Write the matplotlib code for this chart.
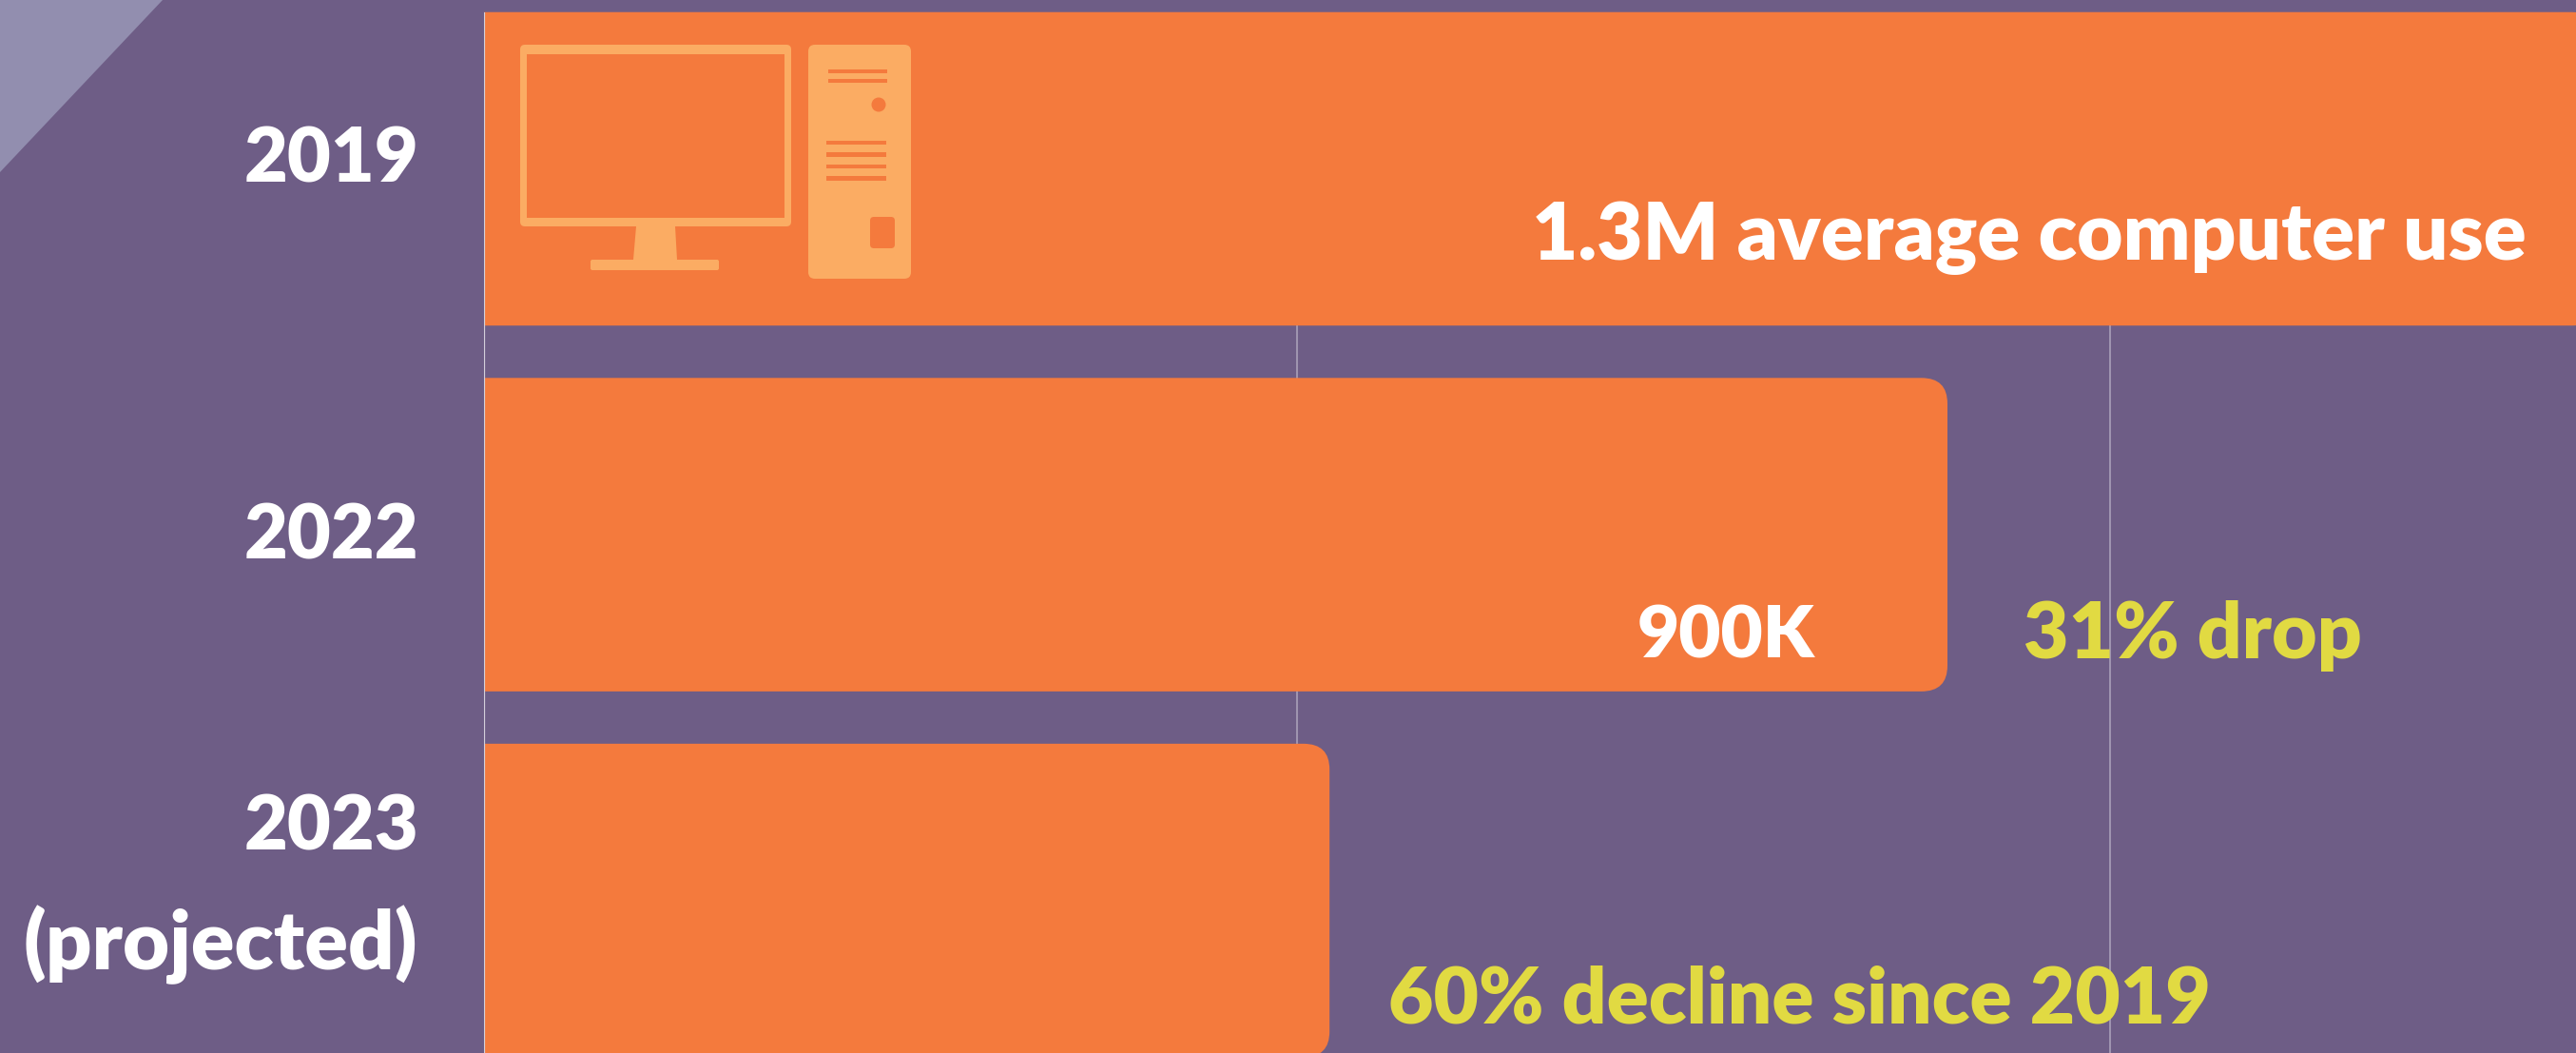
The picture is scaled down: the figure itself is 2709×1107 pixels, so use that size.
import matplotlib
matplotlib.use("Agg")
import matplotlib.pyplot as plt
from matplotlib.patches import FancyBboxPatch, Polygon, Rectangle, Ellipse

years = ["2019", "2022", "2023\n(projected)"]
values = [1300, 900, 520]
grid_ticks = [500, 1000]

BG = "#6E5D86"
ORANGE = "#F47A3D"
ICON = "#FBAC63"
YELLOW = "#E1DA42"
W, H = 2709, 1107

plt.rcParams["font.family"] = ["Lato", "DejaVu Sans"]
plt.rcParams["font.weight"] = "heavy"

fig = plt.figure(figsize=(W / 100, H / 100), dpi=100, facecolor=BG)

# chart axes, runs off the right and bottom of the picture
ax = fig.add_axes([509 / W, 0, 1 - 509 / W, 1], facecolor=BG)
ax.set_xlim(0, (W - 509) / 855 * 500)
ax.set_ylim(2.417, -0.4616)
ax.set_xticks([])
ax.set_yticks([])
for side in ax.spines:
    ax.spines[side].set_visible(False)

bar_h = 0.857
# gridlines start at the top of the first bar
ax.vlines(grid_ticks, -bar_h / 2, 2.417, color="#A59BB5", linewidth=1.3, zorder=1)
ax.vlines([0], -bar_h / 2, 2.417, color="#D3CFDB", linewidth=1.6, zorder=3)

for i, v in enumerate(values):
    # start left of zero so only the right corners show rounded
    bar = FancyBboxPatch(
        (-60, i - bar_h / 2),
        v + 60,
        bar_h,
        boxstyle="round,pad=0,rounding_size=16",
        mutation_aspect=0.0044,
        facecolor=ORANGE,
        edgecolor="none",
        zorder=2,
    )
    ax.add_patch(bar)

# overlay in picture pixels for the icon and the annotations
ov = fig.add_axes([0, 0, 1, 1], facecolor="none")
ov.set_xlim(0, W)
ov.set_ylim(H, 0)
ov.axis("off")

ov.add_patch(Polygon([(0, 0), (171, 0), (0, 181)], facecolor="#928EAF", edgecolor="none"))


def box(x0, y0, x1, y1, color=ICON, r=0):
    if r:
        ov.add_patch(FancyBboxPatch((x0 + r, y0 + r), x1 - x0 - 2 * r, y1 - y0 - 2 * r,
                                    boxstyle="round,pad=%d" % r, facecolor=color, edgecolor="none"))
    else:
        ov.add_patch(Rectangle((x0, y0), x1 - x0, y1 - y0, facecolor=color, edgecolor="none"))


# monitor
box(547, 47, 832, 238, r=5)
box(554, 57, 825, 229, ORANGE)
ov.add_patch(Polygon([(669, 238), (710, 238), (712, 273), (666, 273)], facecolor=ICON, edgecolor="none"))
box(621, 273, 756, 284, r=2)
# tower
box(850, 47, 958, 293, r=7)
for y0, y1 in [(73, 77), (83, 87)]:
    box(871, y0, 933, y1, ORANGE)
ov.add_patch(Ellipse((924, 110), 15, 15, facecolor=ORANGE, edgecolor="none"))
for y0, y1 in [(148, 152), (160, 165), (173, 177), (185, 190)]:
    box(869, y0, 932, y1, ORANGE)
box(915, 228, 941, 261, ORANGE, r=4)

# year labels
ov.text(440, 192, "2019", color="white", fontsize=57, ha="right", va="baseline")
ov.text(440, 587, "2022", color="white", fontsize=57, ha="right", va="baseline")
ov.text(440, 893, "2023", color="white", fontsize=57, ha="right", va="baseline")
ov.text(439, 1019, "(projected)", color="white", fontsize=61, ha="right", va="baseline")

# annotations
ov.text(2657, 273, "1.3M average computer use", color="white", fontsize=60, ha="right", va="baseline")
ov.text(1908, 692, "900K", color="white", fontsize=55, ha="right", va="baseline")
ov.text(2128, 692, "31% drop", color=YELLOW, fontsize=59, ha="left", va="baseline")
ov.text(1460, 1075, "60% decline since 2019", color=YELLOW, fontsize=59, ha="left", va="baseline")

fig.savefig("out.png", dpi=100, facecolor=BG)
